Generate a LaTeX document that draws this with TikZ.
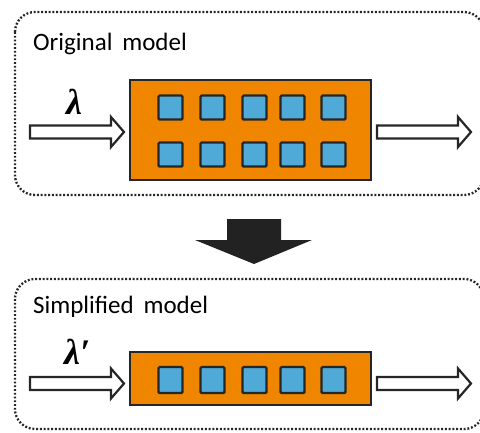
\documentclass[tikz,border=0pt]{standalone}
\usepackage{fontspec}
\setmainfont{Carlito}
\newfontfamily\ratefont{Liberation Serif}
\definecolor{boxorange}{RGB}{240,134,0}
\definecolor{cellblue}{RGB}{79,170,216}
\definecolor{ink}{RGB}{38,38,38}
\tikzset{
  frame/.style={draw=ink, line width=2.3pt, line cap=butt,
                dash pattern=on 1.9pt off 1.85pt, rounded corners=20pt},
  machine/.style={draw=ink, line width=2pt, fill=boxorange, inner sep=0pt},
  cell/.style={draw=ink, line width=2.4pt, fill=cellblue, rounded corners=1.2pt,
               minimum width=24pt, minimum height=24pt, inner sep=0pt},
  flowarrow/.style={draw=ink, line width=2.2pt, fill=white, line join=miter},
  label/.style={font=\fontsize{25}{30}\selectfont, inner sep=0pt, anchor=base west},
  rate/.style={font=\ratefont\bfseries\itshape\fontsize{36}{40}\selectfont, inner sep=0pt},
  pics/blockarrow/.style={code={
    \path[flowarrow] (0,-6.5) -- (81,-6.5) -- (81,-15) -- (94,0) -- (81,15)
      -- (81,6.5) -- (0,6.5) -- cycle;}}
}
\begin{document}
\begin{tikzpicture}[x=1pt,y=-1pt]
\useasboundingbox (0,0) rectangle (480,432);

% upper panel: original model
\path[frame] (15,12) rectangle (484,195);
\node[label] (orig) at (33,50) {Original\, model};
\node[machine, minimum width=241pt, minimum height=100pt] (m1) at (250.5,130) {};
\foreach \x [count=\i] in {170.5,212.5,254.5,292.5,333.5}{
  \node[cell] (a\i) at (\x,107.5) {};
  \node[cell] (b\i) at (\x,154.5) {};
}
\pic at (30,132) {blockarrow};
\pic at (377,132) {blockarrow};
\node[rate, anchor=base] (lam) at (74,114) {λ};

% reduction arrow between the panels
\fill[ink!90!black] (227,219) -- (281,219) -- (281,240) -- (312,240) -- (254,264)
  -- (195,240) -- (227,240) -- cycle;

% lower panel: simplified model
\path[frame] (15,279) rectangle (484,429);
\node[label] (simp) at (33,313) {Simplified\, model};
\node[machine, minimum width=241pt, minimum height=53pt] (m2) at (250.5,378.5) {};
\foreach \x [count=\i] in {170.5,212.5,254.5,292.5,333.5}{
  \node[cell, minimum height=26pt] (c\i) at (\x,380) {};
}
\pic at (30,383.5) {blockarrow};
\pic at (377,383.5) {blockarrow};
\node[rate, anchor=base west] (lamp) at (64,364) {λ′};
\end{tikzpicture}
\end{document}
